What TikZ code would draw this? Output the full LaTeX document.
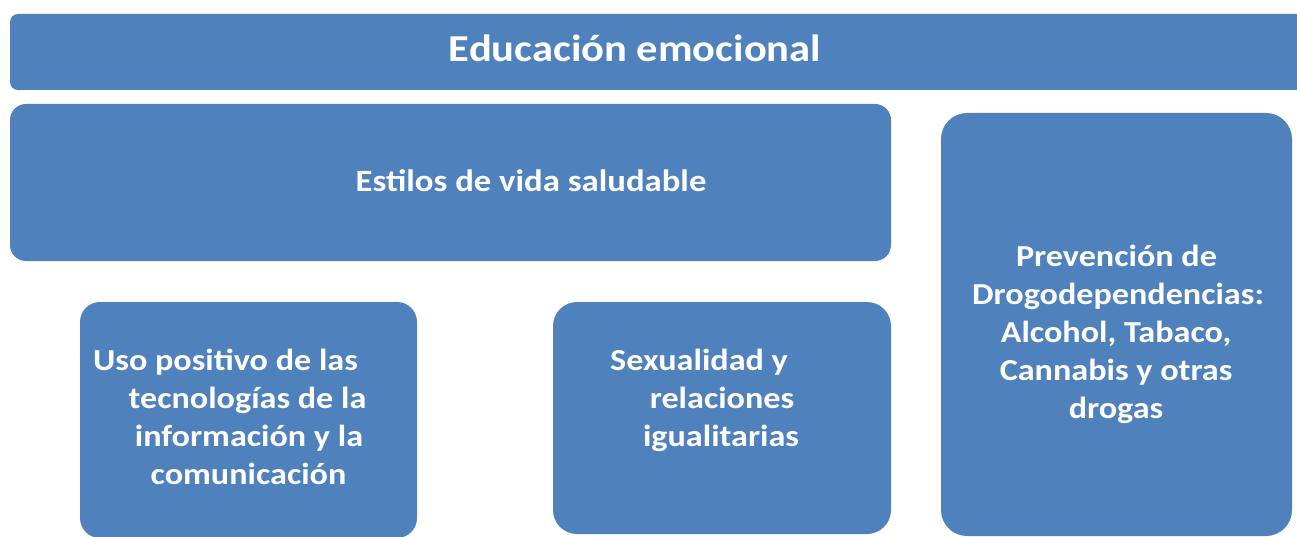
\documentclass[tikz,border=0pt]{standalone}
\usepackage{fontspec}
\setmainfont{Carlito}[FakeStretch=1.12]
\definecolor{boxblue}{HTML}{4F81BD}
\tikzset{
  blk/.style={fill=boxblue, draw=none, inner sep=0pt, outer sep=0pt},
  lbl/.style={text=white, font=\bfseries\fontsize{30.5}{38}\selectfont, anchor=base, inner sep=0pt},
  bigl/.style={text=white, font=\bfseries\fontsize{31}{38}\selectfont, anchor=base, inner sep=0pt},
  titl/.style={text=white, font=\bfseries\fontsize{38}{44}\selectfont, anchor=base, inner sep=0pt}
}
\begin{document}
\begin{tikzpicture}[x=1pt,y=-1pt]
\useasboundingbox (0,0) rectangle (1297,537);
% boxes
\node[blk, rounded corners=8pt, minimum width=1307pt, minimum height=76pt] (banner) at (663.5,52) {};
\node[blk, rounded corners=16pt, minimum width=881pt, minimum height=157pt] (estilos) at (450.5,182.5) {};
\node[blk, rounded corners=26pt, minimum width=351pt, minimum height=423pt] (drog) at (1116.5,324.5) {};
\node[blk, rounded corners=20pt, minimum width=337pt, minimum height=236pt] (uso) at (248.5,420) {};
\node[blk, rounded corners=24pt, minimum width=338pt, minimum height=232pt] (sexo) at (722,418) {};
% texts
\node[titl] (t0) at (635,62) {Educación emocional};
\node[bigl] (t1) at (531,192) {Estilos de vida saludable};
\node[lbl] (d1) at (1116.5,266) {Prevención de};
\node[lbl] (d2) at (1118,304) {Drogodependencias:};
\node[lbl] (d3) at (1116,342) {Alcohol, Tabaco,};
\node[lbl] (d4) at (1116,380) {Cannabis y otras};
\node[lbl] (d5) at (1116,418) {drogas};
\node[lbl] (u1) at (225.5,370) {Uso positivo de las};
\node[lbl] (u2) at (247.5,408) {tecnologías de la};
\node[lbl] (u3) at (249,446) {información y la};
\node[lbl] (u4) at (248.5,484) {comunicación};
\node[lbl] (s1) at (699,370) {Sexualidad y};
\node[lbl] (s2) at (722,408) {relaciones};
\node[lbl] (s3) at (721,446) {igualitarias};
\end{tikzpicture}
\end{document}
